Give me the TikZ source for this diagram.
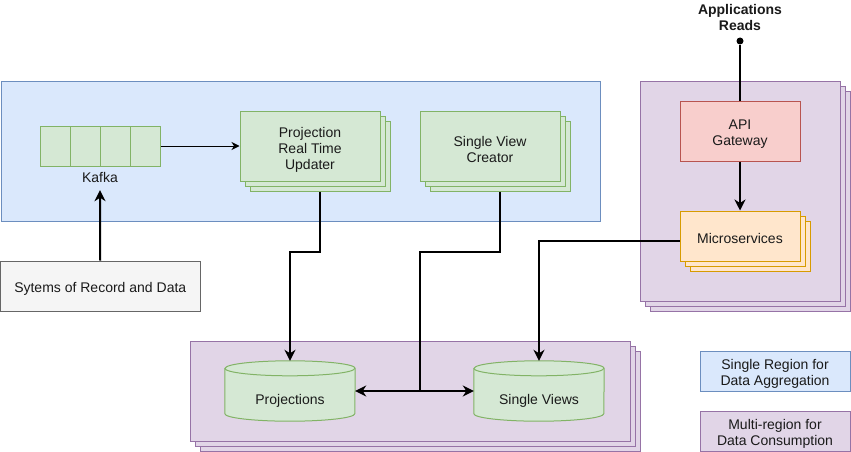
\documentclass[tikz,border=0pt]{standalone}
\usepackage{fontspec}
\setmainfont{Liberation Sans}
\usetikzlibrary{arrows.meta}
\definecolor{bluefill}{HTML}{DAE8FC}
\definecolor{bluestroke}{HTML}{6C8EBF}
\definecolor{greenfill}{HTML}{D5E8D4}
\definecolor{greenstroke}{HTML}{82B366}
\definecolor{purplefill}{HTML}{E1D5E7}
\definecolor{purplestroke}{HTML}{9673A6}
\definecolor{redfill}{HTML}{F8CECC}
\definecolor{redstroke}{HTML}{B85450}
\definecolor{orangefill}{HTML}{FFE6CC}
\definecolor{orangestroke}{HTML}{D79B00}
\definecolor{grayfill}{HTML}{F5F5F5}
\definecolor{graystroke}{HTML}{666666}
\definecolor{txtcol}{HTML}{1A1A1A}
\newcommand\drawcyl[1]{%
  \path[fill=greenfill, draw=greenstroke, line width=1pt]
    ([yshift=-7.5pt]#1.north west) -- ([yshift=7.5pt]#1.south west)
    arc[start angle=180, end angle=360, x radius=65pt, y radius=7.5pt]
    -- ([yshift=-7.5pt]#1.north east)
    arc[start angle=0, end angle=180, x radius=65pt, y radius=7.5pt] -- cycle;
  \draw[greenstroke, line width=1pt] ([yshift=-7.5pt]#1.north west)
    arc[start angle=180, end angle=360, x radius=65pt, y radius=7.5pt];
}
\begin{document}
\begin{tikzpicture}[x=1pt, y=-1pt,
  font=\fontsize{14}{16}\selectfont, text=txtcol,
  box/.style={draw, line width=1pt, inner sep=0pt, align=center},
  bluebox/.style={box, fill=bluefill, draw=bluestroke},
  greenbox/.style={box, fill=greenfill, draw=greenstroke},
  purplebox/.style={box, fill=purplefill, draw=purplestroke},
  redbox/.style={box, fill=redfill, draw=redstroke},
  orangebox/.style={box, fill=orangefill, draw=orangestroke},
  graybox/.style={box, fill=grayfill, draw=graystroke},
  cylbox/.style={inner sep=0pt, minimum width=130, minimum height=60},
  plain/.style={inner sep=0pt, align=center},
  thickline/.style={line width=2pt, black},
  thickarrow/.style={thickline, -{Stealth[length=11pt, width=11pt, inset=3.5pt]}},
  thinarrow/.style={line width=1pt, black, -{Stealth[length=8pt, width=8pt, inset=2.5pt]}},
  botharrow/.style={thickline, {Stealth[length=11pt, width=11pt, inset=3.5pt]}-{Stealth[length=11pt, width=11pt, inset=3.5pt]}},
]
\useasboundingbox (0,0) rectangle (851,452);

% regions
\node[bluebox, minimum width=599, minimum height=140] (aggreg) at (300.5,151) {};
\node[purplebox, minimum width=200, minimum height=220] (cons3) at (750,201) {};
\node[purplebox, minimum width=200, minimum height=220] (cons2) at (745,196) {};
\node[purplebox, minimum width=200, minimum height=220] (cons1) at (740,191) {};
\node[purplebox, minimum width=440, minimum height=100] (store3) at (420,401) {};
\node[purplebox, minimum width=440, minimum height=100] (store2) at (415,396) {};
\node[purplebox, minimum width=440, minimum height=100] (store1) at (410,391) {};

% kafka
\node[greenbox, minimum width=30, minimum height=40] (k1) at (55,146) {};
\node[greenbox, minimum width=30, minimum height=40] (k2) at (85,146) {};
\node[greenbox, minimum width=30, minimum height=40] (k3) at (115,146) {};
\node[greenbox, minimum width=30, minimum height=40] (k4) at (145,146) {};
\node[plain, minimum height=26] (kafkalbl) at (100,177) {Kafka};

% projection real time updater
\node[greenbox, minimum width=140, minimum height=70] (prtu3) at (320,156) {};
\node[greenbox, minimum width=140, minimum height=70] (prtu2) at (315,151) {};
\node[greenbox, minimum width=140, minimum height=70] (prtu1) at (310,146) {};
\node[plain] (prtutxt) at ([yshift=-3.5pt]prtu1.center) {Projection\\Real Time\\Updater};

% single view creator
\node[greenbox, minimum width=140, minimum height=70] (svc3) at (500,156) {};
\node[greenbox, minimum width=140, minimum height=70] (svc2) at (495,151) {};
\node[greenbox, minimum width=140, minimum height=70] (svc1) at (490,146) {};
\node[plain] (svctxt) at ([yshift=-3pt]svc1.center) {Single View\\Creator};

% systems of record
\node[graybox, minimum width=199.5, minimum height=50] (sys) at (100.25,286) {};
\node[plain] (systxt) at ([yshift=-2.5pt]sys.center) {Sytems of Record and Data};

% API gateway and microservices
\node[redbox, minimum width=120, minimum height=60] (api) at (740,131) {};
\node[plain] (apitxt) at ([yshift=-3pt]api.center) {API\\Gateway};
\node[orangebox, minimum width=120, minimum height=50] (ms3) at (750,246) {};
\node[orangebox, minimum width=120, minimum height=50] (ms2) at (745,241) {};
\node[orangebox, minimum width=120, minimum height=50] (ms1) at (740,236) {};
\node[plain] (mstxt) at ([yshift=-2pt]ms1.center) {Microservices};

% apps
\node[plain, font=\fontsize{14}{16}\selectfont\bfseries] (apps) at (740,17) {Applications\\Reads};
\node[circle, fill=black, inner sep=0pt, minimum size=7] (dot) at (740,41) {};

% cylinders
\node[cylbox] (proj) at (290,391) {};
\drawcyl{proj}
\node[plain] (projlbl) at (290,401) {Projections};
\node[cylbox] (sv) at (539,391) {};
\drawcyl{sv}
\node[plain] (svlbl) at (539,401) {Single Views};

% legend
\node[bluebox, minimum width=150, minimum height=40] (leg1) at (775,371) {};
\node[plain] (leg1txt) at ([yshift=-2.5pt]leg1.center) {Single Region for\\Data Aggregation};
\node[purplebox, minimum width=150, minimum height=40] (leg2) at (775,431) {};
\node[plain] (leg2txt) at ([yshift=-2.5pt]leg2.center) {Multi-region for\\Data Consumption};

% connectors
\coordinate (junc) at (420,391);
\draw[thinarrow] (k4.east) -- (prtu1.west);
\draw[thickarrow] (sys.north) -- (kafkalbl.south);
\draw[thickarrow] (prtu3.south) -- ++(0,60) -| (proj.north);
\draw[thickline] (svc3.south) -- ++(0,60) -| (junc);
\draw[botharrow] (proj.east) -- (sv.west);
\draw[thickarrow] ([yshift=-5pt]ms1.west) -| (sv.north);
\draw[thickline] (dot) -- (api.north);
\draw[thickarrow] (api.south) -- (ms1.north);
\end{tikzpicture}
\end{document}
